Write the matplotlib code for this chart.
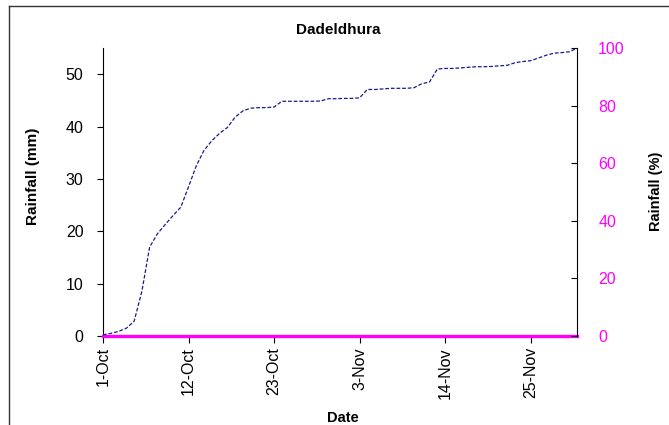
import numpy as np
import matplotlib
matplotlib.use("Agg")
import matplotlib.pyplot as plt
from matplotlib.lines import Line2D

plt.rcParams['font.family'] = ['Liberation Sans', 'DejaVu Sans']

# days since 1-Oct (1-Oct .. 1-Dec)
days = np.arange(62)
tick_days = [0, 11, 22, 33, 44, 55]
tick_labels = ['1-Oct', '12-Oct', '23-Oct', '3-Nov', '14-Nov', '25-Nov']

# cumulative rainfall (%)
cum_pct = [0.4, 0.9, 1.6, 2.7, 5.1, 15.5, 30.9, 35.5, 38.7, 41.8,
           44.7, 51.8, 59.1, 64.5, 67.8, 70.4, 72.4, 76.0, 78.2, 79.1,
           79.3, 79.3, 79.5, 81.5, 81.5, 81.5, 81.5, 81.5, 81.6, 82.4,
           82.4, 82.5, 82.5, 82.7, 85.6, 85.6, 85.8, 86.0, 86.0, 86.0,
           86.2, 87.6, 88.2, 92.7, 92.9, 92.9, 93.1, 93.3, 93.5, 93.5,
           93.6, 93.8, 94.0, 94.9, 95.3, 95.6, 96.5, 97.5, 98.2, 98.4,
           98.7, 100.0]

# daily rainfall (mm)
rain_mm = [0, 0, 0, 0, 0, 0, 0, 0, 0, 0, 0, 0, 0, 0, 0, 0, 0, 0, 0, 0,
           0, 0, 0, 0, 0, 0, 0, 0, 0, 0, 0, 0, 0, 0, 0, 0, 0, 0, 0, 0,
           0, 0, 0, 0, 0, 0, 0, 0, 0, 0, 0, 0, 0, 0, 0, 0, 0, 0, 0, 0,
           0, 0]

W, H = 669, 425
fig = plt.figure(figsize=(W / 100, H / 100), dpi=100)
ax = fig.add_axes([103 / W, 1 - 336 / H, 474.3 / W, 288 / H])
ax2 = ax.twinx()

ax.plot(days, rain_mm, color='#FF00FF', lw=2.4, clip_on=False, zorder=5)
ax2.plot(days, cum_pct, color='#1a1a8c', lw=0.9, dashes=(3, 1.5))

ax.set_xlim(0, 61)
ax.set_ylim(0, 55)
ax2.set_ylim(0, 100)
ax.set_yticks(range(0, 51, 10))
ax2.set_yticks(range(0, 101, 20))
ax.set_xticks(tick_days)
ax.set_xticklabels(tick_labels, rotation=90)

for a in (ax, ax2):
    a.spines['top'].set_visible(False)
    a.spines['bottom'].set_visible(False)
ax.spines['right'].set_visible(False)
ax2.spines['left'].set_visible(False)

ax.tick_params(axis='y', direction='out', length=4, labelsize=11.5, pad=10)
ax.tick_params(axis='x', direction='out', length=5, labelsize=11.5, pad=3)
ax2.tick_params(axis='y', direction='in', length=4, labelsize=11.5,
                labelcolor='#FF00FF', pad=15)

# title and axis labels
fig.text(338 / W, 1 - 29.5 / H, 'Dadeldhura', fontsize=11, fontweight='bold',
         ha='center', va='center')
fig.text(343 / W, 1 - 418 / H, 'Date', fontsize=10.5, fontweight='bold',
         ha='center', va='center')
fig.text(33 / W, 1 - 176 / H, 'Rainfall (mm)', fontsize=11, fontweight='bold',
         ha='center', va='center', rotation=90)
fig.text(656 / W, 1 - 191 / H, 'Rainfall (%)', fontsize=10.5, fontweight='bold',
         ha='center', va='center', rotation=90)

# outer chart border
fig.add_artist(Line2D([9 / W, 1], [1 - 6 / H, 1 - 6 / H], color='#333333', lw=1))
fig.add_artist(Line2D([9 / W, 9 / W], [0, 1 - 6 / H], color='#333333', lw=1))

fig.savefig('out.png', dpi=100)
